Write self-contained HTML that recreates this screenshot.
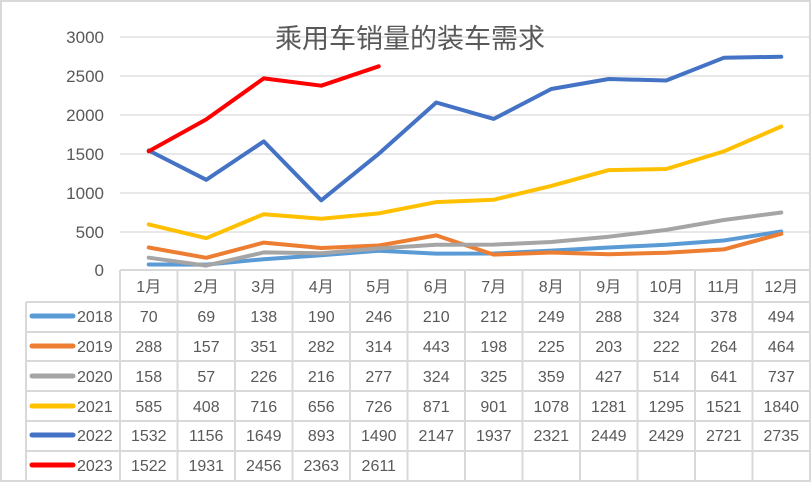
<!DOCTYPE html>
<html><head><meta charset="utf-8"><style>
html,body{margin:0;padding:0;background:#fff;}
svg{display:block;font-family:"Liberation Sans","Noto Sans CJK SC",sans-serif;}
</style></head><body>
<svg width="811" height="482" viewBox="0 0 811 482" xmlns="http://www.w3.org/2000/svg">
<rect x="1" y="1" width="809" height="480" fill="#fff" stroke="#d9d9d9" stroke-width="2"/>
<g stroke="#d9d9d9" stroke-width="1.3">
<line x1="120" y1="37" x2="810" y2="37"/><line x1="120" y1="76" x2="810" y2="76"/>
<line x1="120" y1="115" x2="810" y2="115"/><line x1="120" y1="154" x2="810" y2="154"/>
<line x1="120" y1="193" x2="810" y2="193"/><line x1="120" y1="232" x2="810" y2="232"/>
</g>
<g fill="#595959" font-size="17" text-anchor="end">
<text x="104" y="43">3000</text><text x="104" y="82">2500</text><text x="104" y="121">2000</text>
<text x="104" y="160">1500</text><text x="104" y="199">1000</text><text x="104" y="238">500</text><text x="104" y="276">0</text>
</g>
<text x="410" y="48" fill="#595959" font-size="27" text-anchor="middle">乘用车销量的装车需求</text>
<!-- table grid -->
<g stroke="#d9d9d9" stroke-width="2" fill="none">
<line x1="120" y1="270" x2="810" y2="270"/>
<line x1="26" y1="302" x2="810" y2="302"/><line x1="26" y1="332" x2="810" y2="332"/>
<line x1="26" y1="361" x2="810" y2="361"/><line x1="26" y1="391" x2="810" y2="391"/>
<line x1="26" y1="421" x2="810" y2="421"/><line x1="26" y1="451" x2="810" y2="451"/>
<line x1="26" y1="481" x2="810" y2="481"/>
<line x1="26" y1="302" x2="26" y2="481"/>
<line x1="120" y1="270" x2="120" y2="481"/><line x1="177.5" y1="270" x2="177.5" y2="481"/>
<line x1="235" y1="270" x2="235" y2="481"/><line x1="292.5" y1="270" x2="292.5" y2="481"/>
<line x1="350" y1="270" x2="350" y2="481"/><line x1="407.5" y1="270" x2="407.5" y2="481"/>
<line x1="465" y1="270" x2="465" y2="481"/><line x1="522.5" y1="270" x2="522.5" y2="481"/>
<line x1="580" y1="270" x2="580" y2="481"/><line x1="637.5" y1="270" x2="637.5" y2="481"/>
<line x1="695" y1="270" x2="695" y2="481"/><line x1="752.5" y1="270" x2="752.5" y2="481"/>
<line x1="810" y1="270" x2="810" y2="481"/>
</g>
<!-- series -->
<g fill="none" stroke-width="4" stroke-linejoin="round" stroke-linecap="round">
<polyline stroke="#5b9bd5" points="148.75,264.5 206.25,264.6 263.75,259.2 321.25,255.2 378.75,250.8 436.25,253.6 493.75,253.5 551.25,250.6 608.75,247.5 666.25,244.7 723.75,240.5 781.25,231.5"/>
<polyline stroke="#ed7d31" points="148.75,247.5 206.25,257.8 263.75,242.6 321.25,248.0 378.75,245.5 436.25,235.4 493.75,254.6 551.25,252.5 608.75,254.2 666.25,252.7 723.75,249.4 781.25,233.8"/>
<polyline stroke="#a5a5a5" points="148.75,257.7 206.25,265.6 263.75,252.4 321.25,253.2 378.75,248.4 436.25,244.7 493.75,244.6 551.25,242.0 608.75,236.7 666.25,229.9 723.75,220.0 781.25,212.5"/>
<polyline stroke="#ffc000" points="148.75,224.4 206.25,238.2 263.75,214.2 321.25,218.8 378.75,213.4 436.25,202.1 493.75,199.7 551.25,185.9 608.75,170.1 666.25,169.0 723.75,151.4 781.25,126.5"/>
<polyline stroke="#4472c4" points="148.75,150.5 206.25,179.8 263.75,141.4 321.25,200.3 378.75,153.8 436.25,102.5 493.75,118.9 551.25,89.0 608.75,79.0 666.25,80.5 723.75,57.8 781.25,56.7"/>
<polyline stroke="#ff0000" points="148.75,151.3 206.25,119.4 263.75,78.4 321.25,85.7 378.75,66.3"/>
</g>
<!-- header -->
<g fill="#595959" font-size="16" text-anchor="middle">
<text x="148.75" y="292">1月</text><text x="206.25" y="292">2月</text><text x="263.75" y="292">3月</text>
<text x="321.25" y="292">4月</text><text x="378.75" y="292">5月</text><text x="436.25" y="292">6月</text>
<text x="493.75" y="292">7月</text><text x="551.25" y="292">8月</text><text x="608.75" y="292">9月</text>
<text x="666.25" y="292">10月</text><text x="723.75" y="292">11月</text><text x="781.25" y="292">12月</text>
</g>
<!-- legend -->
<g stroke-width="5" stroke-linecap="round">
<line x1="32" y1="316" x2="73" y2="316" stroke="#5b9bd5"/>
<line x1="32" y1="346" x2="73" y2="346" stroke="#ed7d31"/>
<line x1="32" y1="376" x2="73" y2="376" stroke="#a5a5a5"/>
<line x1="32" y1="406" x2="73" y2="406" stroke="#ffc000"/>
<line x1="32" y1="435" x2="73" y2="435" stroke="#4472c4"/>
<line x1="32" y1="465" x2="73" y2="465" stroke="#ff0000"/>
</g>
<g fill="#595959" font-size="16">
<text x="77" y="322">2018</text><text x="77" y="352">2019</text><text x="77" y="382">2020</text>
<text x="77" y="412">2021</text><text x="77" y="441">2022</text><text x="77" y="471">2023</text>
</g>
<g fill="#595959" font-size="16" text-anchor="middle">
<text y="322"><tspan x="148.75">70</tspan><tspan x="206.25">69</tspan><tspan x="263.75">138</tspan><tspan x="321.25">190</tspan><tspan x="378.75">246</tspan><tspan x="436.25">210</tspan><tspan x="493.75">212</tspan><tspan x="551.25">249</tspan><tspan x="608.75">288</tspan><tspan x="666.25">324</tspan><tspan x="723.75">378</tspan><tspan x="781.25">494</tspan></text>
<text y="352"><tspan x="148.75">288</tspan><tspan x="206.25">157</tspan><tspan x="263.75">351</tspan><tspan x="321.25">282</tspan><tspan x="378.75">314</tspan><tspan x="436.25">443</tspan><tspan x="493.75">198</tspan><tspan x="551.25">225</tspan><tspan x="608.75">203</tspan><tspan x="666.25">222</tspan><tspan x="723.75">264</tspan><tspan x="781.25">464</tspan></text>
<text y="382"><tspan x="148.75">158</tspan><tspan x="206.25">57</tspan><tspan x="263.75">226</tspan><tspan x="321.25">216</tspan><tspan x="378.75">277</tspan><tspan x="436.25">324</tspan><tspan x="493.75">325</tspan><tspan x="551.25">359</tspan><tspan x="608.75">427</tspan><tspan x="666.25">514</tspan><tspan x="723.75">641</tspan><tspan x="781.25">737</tspan></text>
<text y="412"><tspan x="148.75">585</tspan><tspan x="206.25">408</tspan><tspan x="263.75">716</tspan><tspan x="321.25">656</tspan><tspan x="378.75">726</tspan><tspan x="436.25">871</tspan><tspan x="493.75">901</tspan><tspan x="551.25">1078</tspan><tspan x="608.75">1281</tspan><tspan x="666.25">1295</tspan><tspan x="723.75">1521</tspan><tspan x="781.25">1840</tspan></text>
<text y="441"><tspan x="148.75">1532</tspan><tspan x="206.25">1156</tspan><tspan x="263.75">1649</tspan><tspan x="321.25">893</tspan><tspan x="378.75">1490</tspan><tspan x="436.25">2147</tspan><tspan x="493.75">1937</tspan><tspan x="551.25">2321</tspan><tspan x="608.75">2449</tspan><tspan x="666.25">2429</tspan><tspan x="723.75">2721</tspan><tspan x="781.25">2735</tspan></text>
<text y="471"><tspan x="148.75">1522</tspan><tspan x="206.25">1931</tspan><tspan x="263.75">2456</tspan><tspan x="321.25">2363</tspan><tspan x="378.75">2611</tspan></text>
</g>
</svg>
</body></html>
